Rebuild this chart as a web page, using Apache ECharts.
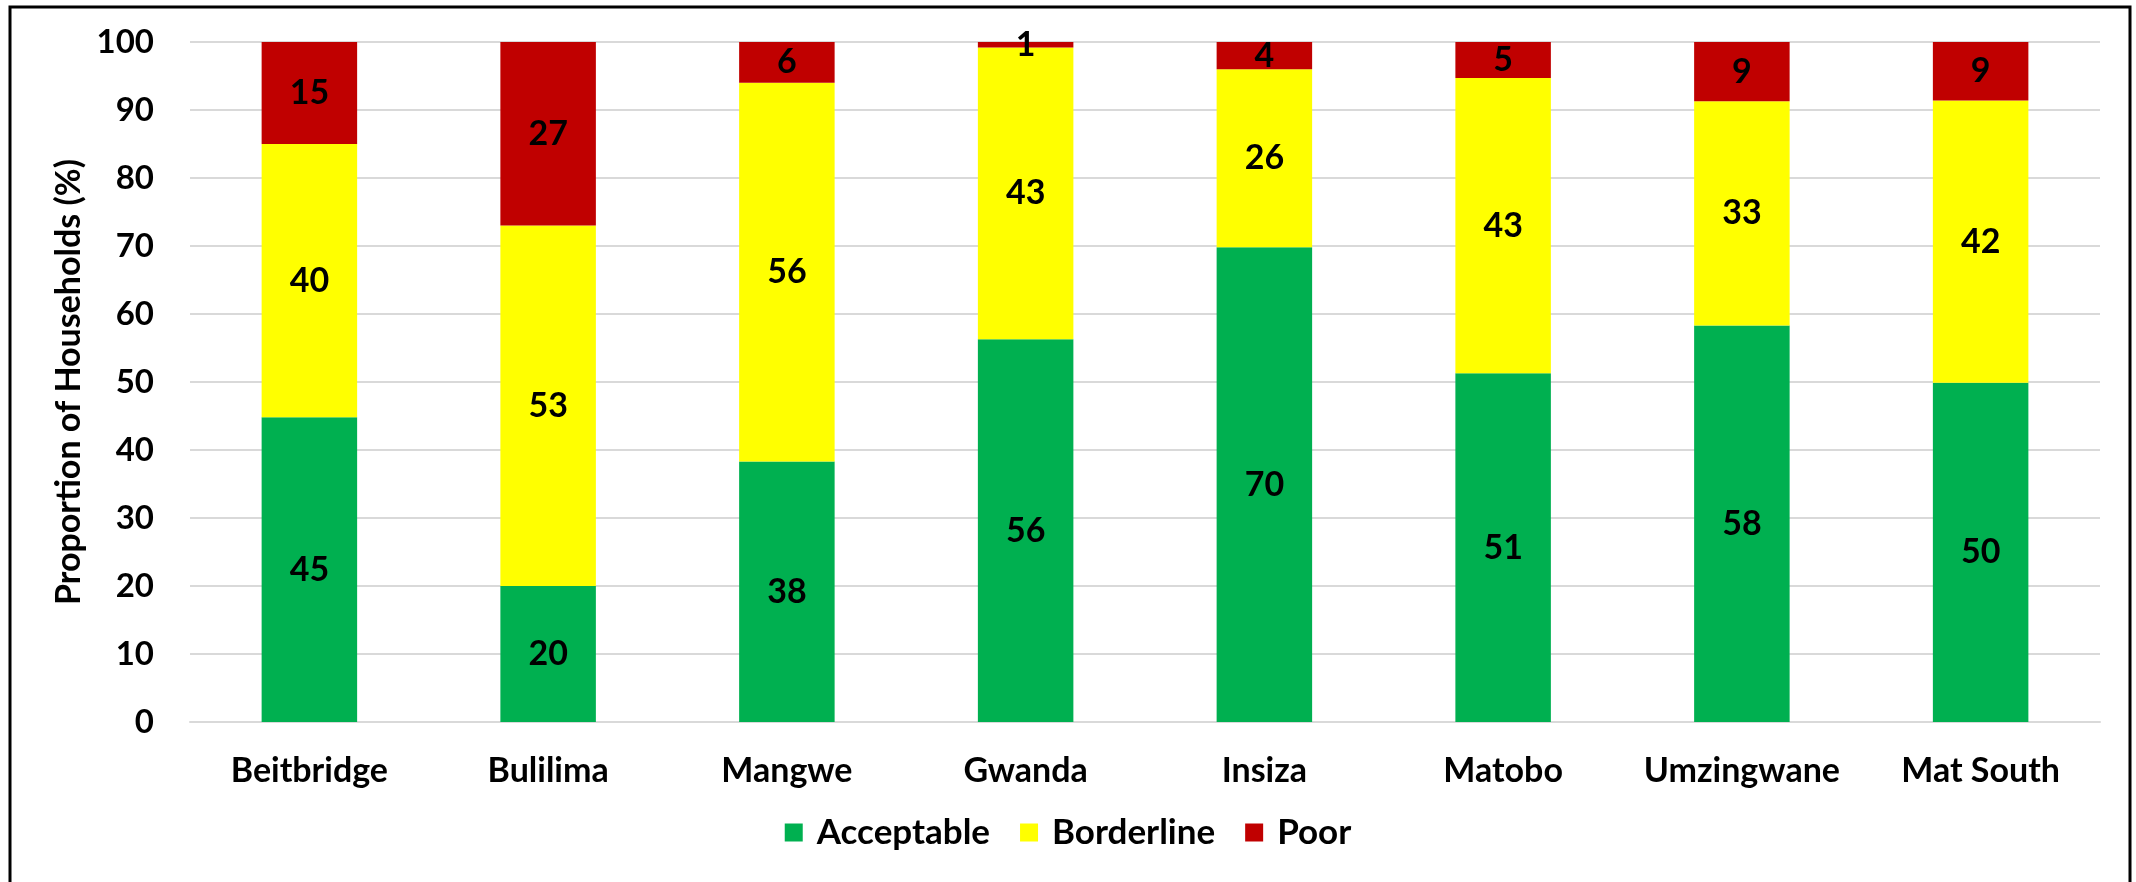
<!DOCTYPE html>
<html><head><meta charset="utf-8">
<script src="https://cdn.jsdelivr.net/npm/echarts@6/dist/echarts.min.js"></script>
<style>html,body{margin:0;padding:0;background:#fff}#c{width:2136px;height:882px}</style>
</head><body><div id="c"></div>
<script>
const categories = ['Beitbridge','Bulilima','Mangwe','Gwanda','Insiza','Matobo','Umzingwane','Mat South'];
const acceptable = [44.8, 20.0, 38.3, 56.3, 69.8, 51.3, 58.3, 49.9];
const borderline = [40.2, 53.0, 55.7, 42.9, 26.2, 43.4, 33.0, 41.5];
const poor       = [15.0, 27.0, 6.0, 0.8, 4.0, 5.3, 8.7, 8.6];
const seriesNames = ['Acceptable','Borderline','Poor'];
const colors = ['#00b050','#ffff00','#c00000'];
const FONT = 'Lato';
const chart = echarts.init(document.getElementById('c'));
const lbl = {show:true, position:'inside', color:'#000', fontFamily:FONT, fontWeight:'bold', fontSize:34,
  formatter: p => Math.round(p.value)};
const mk = (name, data, i) => ({name, type:'bar', stack:'t', data, barWidth:'40%',
  itemStyle:{color:colors[i]}, label:lbl, emphasis:{disabled:true}});
chart.setOption({
  animation:false,
  grid:{left:190, right:36, top:42, bottom:160, containLabel:false},
  legend:{bottom:27, left:'center', itemWidth:18, itemHeight:18, itemGap:30, icon:'rect',
    textStyle:{fontFamily:FONT, fontWeight:'bold', fontSize:35, color:'#000', padding:[0,0,0,9]},
    data:seriesNames},
  xAxis:{type:'category', data:categories,
    axisLine:{lineStyle:{color:'#d9d9d9', width:2}}, axisTick:{show:false},
    axisLabel:{interval:0, hideOverlap:false, fontFamily:FONT, fontWeight:'bold', fontSize:34, color:'#000', margin:32}},
  yAxis:{type:'value', min:0, max:100, interval:10,
    name:'Proportion of Households (%)', nameLocation:'middle', nameGap:104, nameRotate:90,
    nameTextStyle:{fontFamily:FONT, fontWeight:'bold', fontSize:34, color:'#000'},
    splitLine:{lineStyle:{color:'#d9d9d9', width:2}},
    axisLine:{show:false}, axisTick:{show:false},
    axisLabel:{fontFamily:FONT, fontWeight:'bold', fontSize:33, color:'#000', margin:36}},
  series:[mk(seriesNames[0],acceptable,0), mk(seriesNames[1],borderline,1), mk(seriesNames[2],poor,2)],
  graphic:[{type:'rect', shape:{x:10, y:7, width:2120, height:900}, style:{fill:null, stroke:'#000', lineWidth:3}, silent:true}]
});
</script></body></html>
